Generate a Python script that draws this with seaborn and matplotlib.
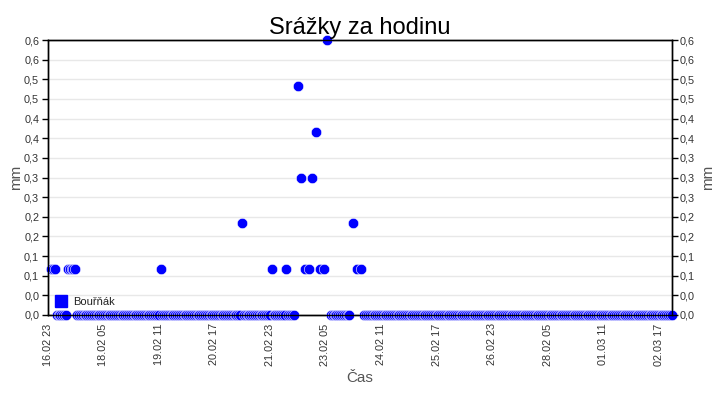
import numpy as np
import pandas as pd
import matplotlib
matplotlib.use("Agg")
import matplotlib.pyplot as plt
import matplotlib.dates as mdates
from matplotlib.ticker import FuncFormatter
from matplotlib.lines import Line2D
import seaborn as sns

# hourly rain gauge data, hour 0 = 16.02 23:00
start_time = "2023-02-16 23:00"
n_hours = 338
rain_hours = [2, 3, 4, 11, 12, 13, 14, 15, 61, 105, 121, 129, 135, 137, 139, 141,
              143, 145, 147, 149, 151, 165, 167, 169]
rain_mm = [0.1, 0.1, 0.1, 0.1, 0.1, 0.1, 0.1, 0.1, 0.1, 0.2, 0.1, 0.1, 0.5, 0.3, 0.1, 0.1,
           0.3, 0.4, 0.1, 0.1, 0.6, 0.2, 0.1, 0.1]
missing_hours = [0, 1, 134, 136, 138, 140, 142, 144, 146, 148, 150, 152, 164, 166, 168, 170]
station = "Bouřňák"

t0 = pd.Timestamp(start_time)
times = pd.date_range(t0, periods=n_hours, freq="h")
mm = np.zeros(n_hours)
mm[rain_hours] = rain_mm
mm[missing_hours] = np.nan
df = pd.DataFrame({"Čas": times, "mm": mm}).dropna()

sns.set_style("white")
plt.rcParams["font.family"] = ["Liberation Sans", "DejaVu Sans"]

fig = plt.figure(figsize=(7.2, 4.0), dpi=100)
ax = fig.add_axes([0.066, 0.2125, 0.867, 0.6875])

sns.scatterplot(data=df, x="Čas", y="mm", ax=ax, color="blue", s=56,
                edgecolor="white", linewidth=0.4, clip_on=False, zorder=3, legend=False)

yticks = np.linspace(0, 0.6, 15)
fmt = FuncFormatter(lambda v, p: f"{v:.1f}".replace(".", ","))
ax.set_ylim(0, 0.6)
ax.set_yticks(yticks)
ax.yaxis.set_major_formatter(fmt)
ax.set_xlim(times[0], times[-1])
ax.set_xticks(pd.date_range(t0, periods=12, freq="30h"))
ax.xaxis.set_major_formatter(mdates.DateFormatter("%d.%m %H"))
ax.yaxis.grid(True, color="#e8e8e8", linewidth=1)
ax.set_axisbelow(True)

for s in ax.spines.values():
    s.set_color("black")
    s.set_linewidth(1)

ax.tick_params(axis="y", direction="out", length=4, width=1, color="black",
               labelsize=7.8, labelcolor="#333333", pad=2)
ax.tick_params(axis="x", direction="in", length=4, width=1, color="black",
               labelsize=7.8, labelcolor="#333333", pad=6, labelrotation=90)

ax.set_title("Srážky za hodinu", fontsize=17, color="black", pad=4)
ax.set_xlabel("Čas", fontsize=11, color="#555555", labelpad=4)
ax.set_ylabel("mm", fontsize=11, color="#555555", labelpad=1)

ax2 = ax.twinx()
ax2.set_ylim(0, 0.6)
ax2.set_yticks(yticks)
ax2.yaxis.set_major_formatter(fmt)
ax2.tick_params(axis="y", direction="out", length=4, width=1, color="black",
                labelsize=7.8, labelcolor="#333333", pad=2)
ax2.set_ylabel("mm", fontsize=11, color="#555555", labelpad=4)
for s in ax2.spines.values():
    s.set_color("black")
    s.set_linewidth(1)

handle = Line2D([], [], marker="s", color="blue", linestyle="", markersize=8)
ax.legend([handle], [station], loc="center left", bbox_to_anchor=(0.003, 0.047),
          frameon=False, fontsize=8, handlelength=1, handletextpad=0.6, borderpad=0,
          labelcolor="#222222")

fig.savefig("out.png", dpi=100)
